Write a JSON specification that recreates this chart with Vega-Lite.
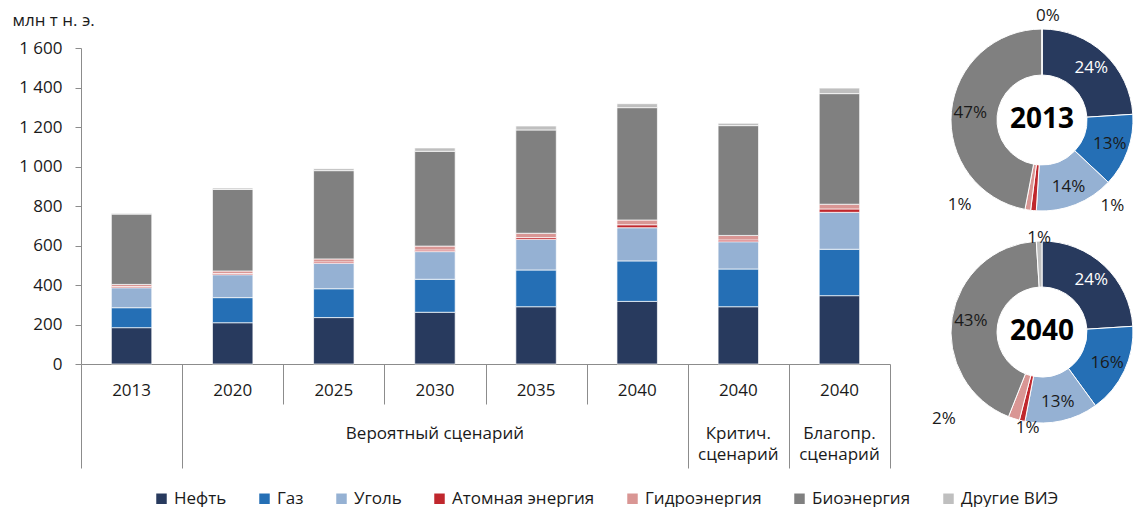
{
  "$schema": "https://vega.github.io/schema/vega-lite/v6.json",
  "background": "white",
  "padding": {"left": 12, "top": 7, "right": 0, "bottom": 3},
  "config": {
    "font": "Open Sans",
    "view": {"stroke": null},
    "axis": {"labelFont": "Open Sans", "titleFont": "Open Sans", "labelColor": "#1a1a1a", "titleColor": "#1a1a1a", "domainColor": "#8c8c8c", "tickColor": "#8c8c8c", "grid": false},
    "legend": {"labelFont": "Open Sans", "labelColor": "#1a1a1a"},
    "text": {"font": "Open Sans", "fontSize": 17}
  },
  "datasets": {
    "sources": [
      {"source": "Нефть", "rank": 1},
      {"source": "Газ", "rank": 2},
      {"source": "Уголь", "rank": 3},
      {"source": "Атомная энергия", "rank": 4},
      {"source": "Гидроэнергия", "rank": 5},
      {"source": "Биоэнергия", "rank": 6},
      {"source": "Другие ВИЭ", "rank": 7}
    ],
    "bars": [
      {"period": "2013", "source": "Нефть", "value": 184},
      {"period": "2013", "source": "Газ", "value": 101},
      {"period": "2013", "source": "Уголь", "value": 101},
      {"period": "2013", "source": "Атомная энергия", "value": 6},
      {"period": "2013", "source": "Гидроэнергия", "value": 11},
      {"period": "2013", "source": "Биоэнергия", "value": 356},
      {"period": "2013", "source": "Другие ВИЭ", "value": 4},
      {"period": "2020", "source": "Нефть", "value": 209},
      {"period": "2020", "source": "Газ", "value": 127},
      {"period": "2020", "source": "Уголь", "value": 116},
      {"period": "2020", "source": "Атомная энергия", "value": 6},
      {"period": "2020", "source": "Гидроэнергия", "value": 13},
      {"period": "2020", "source": "Биоэнергия", "value": 413},
      {"period": "2020", "source": "Другие ВИЭ", "value": 7},
      {"period": "2025", "source": "Нефть", "value": 235},
      {"period": "2025", "source": "Газ", "value": 146},
      {"period": "2025", "source": "Уголь", "value": 129},
      {"period": "2025", "source": "Атомная энергия", "value": 7},
      {"period": "2025", "source": "Гидроэнергия", "value": 15},
      {"period": "2025", "source": "Биоэнергия", "value": 447},
      {"period": "2025", "source": "Другие ВИЭ", "value": 10},
      {"period": "2030||Вероятный сценарий", "source": "Нефть", "value": 262},
      {"period": "2030||Вероятный сценарий", "source": "Газ", "value": 167},
      {"period": "2030||Вероятный сценарий", "source": "Уголь", "value": 140},
      {"period": "2030||Вероятный сценарий", "source": "Атомная энергия", "value": 8},
      {"period": "2030||Вероятный сценарий", "source": "Гидроэнергия", "value": 20},
      {"period": "2030||Вероятный сценарий", "source": "Биоэнергия", "value": 480},
      {"period": "2030||Вероятный сценарий", "source": "Другие ВИЭ", "value": 17},
      {"period": "2035", "source": "Нефть", "value": 290},
      {"period": "2035", "source": "Газ", "value": 186},
      {"period": "2035", "source": "Уголь", "value": 155},
      {"period": "2035", "source": "Атомная энергия", "value": 9},
      {"period": "2035", "source": "Гидроэнергия", "value": 22},
      {"period": "2035", "source": "Биоэнергия", "value": 523},
      {"period": "2035", "source": "Другие ВИЭ", "value": 20},
      {"period": "2040", "source": "Нефть", "value": 317},
      {"period": "2040", "source": "Газ", "value": 205},
      {"period": "2040", "source": "Уголь", "value": 168},
      {"period": "2040", "source": "Атомная энергия", "value": 15},
      {"period": "2040", "source": "Гидроэнергия", "value": 24},
      {"period": "2040", "source": "Биоэнергия", "value": 569},
      {"period": "2040", "source": "Другие ВИЭ", "value": 20},
      {"period": "2040||Критич.|сценарий", "source": "Нефть", "value": 290},
      {"period": "2040||Критич.|сценарий", "source": "Газ", "value": 191},
      {"period": "2040||Критич.|сценарий", "source": "Уголь", "value": 138},
      {"period": "2040||Критич.|сценарий", "source": "Атомная энергия", "value": 9},
      {"period": "2040||Критич.|сценарий", "source": "Гидроэнергия", "value": 23},
      {"period": "2040||Критич.|сценарий", "source": "Биоэнергия", "value": 556},
      {"period": "2040||Критич.|сценарий", "source": "Другие ВИЭ", "value": 12},
      {"period": "2040||Благопр.|сценарий", "source": "Нефть", "value": 346},
      {"period": "2040||Благопр.|сценарий", "source": "Газ", "value": 235},
      {"period": "2040||Благопр.|сценарий", "source": "Уголь", "value": 187},
      {"period": "2040||Благопр.|сценарий", "source": "Атомная энергия", "value": 17},
      {"period": "2040||Благопр.|сценарий", "source": "Гидроэнергия", "value": 24},
      {"period": "2040||Благопр.|сценарий", "source": "Биоэнергия", "value": 560},
      {"period": "2040||Благопр.|сценарий", "source": "Другие ВИЭ", "value": 28}
    ],
    "shares": [
      {"year": "2013", "source": "Нефть", "share": 0.24},
      {"year": "2013", "source": "Газ", "share": 0.13},
      {"year": "2013", "source": "Уголь", "share": 0.14},
      {"year": "2013", "source": "Атомная энергия", "share": 0.01},
      {"year": "2013", "source": "Гидроэнергия", "share": 0.01},
      {"year": "2013", "source": "Биоэнергия", "share": 0.47},
      {"year": "2013", "source": "Другие ВИЭ", "share": 0.0},
      {"year": "2040", "source": "Нефть", "share": 0.24},
      {"year": "2040", "source": "Газ", "share": 0.16},
      {"year": "2040", "source": "Уголь", "share": 0.13},
      {"year": "2040", "source": "Атомная энергия", "share": 0.01},
      {"year": "2040", "source": "Гидроэнергия", "share": 0.02},
      {"year": "2040", "source": "Биоэнергия", "share": 0.43},
      {"year": "2040", "source": "Другие ВИЭ", "share": 0.01}
    ]
  },
  "spacing": 60,
  "bounds": "flush",
  "resolve": {"scale": {"color": "shared"}, "legend": {"color": "shared"}},
  "hconcat": [
    {
      "width": 809,
      "height": 316,
      "data": {"name": "bars"},
      "transform": [
        {"lookup": "source", "from": {"data": {"name": "sources"}, "key": "source", "fields": ["rank"]}}
      ],
      "resolve": {"axis": {"x": "independent"}},
      "layer": [
        {
          "mark": {"type": "bar", "width": {"band": 0.4}, "stroke": "#ffffff", "strokeWidth": 0.7},
          "encoding": {
            "x": {
              "field": "period", "type": "nominal", "sort": null,
              "scale": {"paddingInner": 0, "paddingOuter": 0},
              "axis": {
                "orient": "bottom", "title": null, "ticks": false, "labelAngle": 0,
                "labelExpr": "split(replace(datum.value, '||', '|\u200b|'), '|')",
                "labelBaseline": "top", "labelPadding": 18, "labelLineHeight": 21.5,
                "labelFontSize": 17
              }
            },
            "y": {
              "field": "value", "type": "quantitative", "stack": "zero",
              "scale": {"domain": [0, 1600]},
              "axis": {
                "title": "млн т н. э.", "titleAngle": 0, "titleAlign": "left",
                "titleBaseline": "alphabetic", "titleX": -69, "titleY": -23,
                "titleFontWeight": "normal", "titleFontSize": 17,
                "values": [0, 200, 400, 600, 800, 1000, 1200, 1400, 1600],
                "labelExpr": "replace(format(datum.value, ','), ',', ' ')",
                "labelFontSize": 17, "labelPadding": 13, "tickSize": 6
              }
            },
            "color": {
              "field": "source", "type": "nominal",
              "sort": ["Нефть", "Газ", "Уголь", "Атомная энергия", "Гидроэнергия", "Биоэнергия", "Другие ВИЭ"],
              "scale": {
                "domain": ["Нефть", "Газ", "Уголь", "Атомная энергия", "Гидроэнергия", "Биоэнергия", "Другие ВИЭ"],
                "range": ["#283a5e", "#256fb5", "#95b1d3", "#c0272d", "#d99694", "#808080", "#bfbfbf"]
              },
              "legend": {
                "title": null, "orient": "none", "direction": "horizontal",
                "legendX": 72, "legendY": 442, "symbolType": "square", "symbolSize": 110,
                "symbolStrokeWidth": 0, "labelFontSize": 17, "labelOffset": 4, "columnPadding": 29
              }
            },
            "order": {"field": "rank", "type": "quantitative"}
          }
        },
        {
          "mark": {"type": "bar", "opacity": 0},
          "encoding": {
            "x": {
              "field": "period", "type": "nominal", "sort": null,
              "scale": {"paddingInner": 0, "paddingOuter": 0},
              "axis": {
                "orient": "bottom", "title": null, "labels": false, "domain": false,
                "tickBand": "extent", "tickWidth": 1,
                "tickSize": {"condition": {"test": "datum.extra || test(/^(2013|2040)/, datum.value + '')", "value": 104}, "value": 40}
              }
            }
          }
        }
      ]
    },
    {
      "spacing": 68,
      "bounds": "flush",
      "vconcat": [
        {
          "width": 184,
          "height": 144,
          "data": {"name": "shares"},
          "transform": [
            {"filter": "datum.year == '2013'"},
            {"lookup": "source", "from": {"data": {"name": "sources"}, "key": "source", "fields": ["rank"]}}
          ],
          "layer": [
            {
              "mark": {"type": "arc", "outerRadius": 91, "innerRadius": 45, "stroke": "#ffffff", "strokeWidth": 1},
              "encoding": {
                "theta": {"field": "share", "type": "quantitative", "stack": true},
                "order": {"field": "rank", "type": "quantitative"},
                "color": {
                  "field": "source", "type": "nominal",
                  "scale": {
                    "domain": ["Нефть", "Газ", "Уголь", "Атомная энергия", "Гидроэнергия", "Биоэнергия", "Другие ВИЭ"],
                    "range": ["#283a5e", "#256fb5", "#95b1d3", "#c0272d", "#d99694", "#808080", "#bfbfbf"]
                  }
                }
              }
            },
            {
              "mark": {"type": "text", "radius": 72, "fontSize": 17},
              "encoding": {
                "theta": {"field": "share", "type": "quantitative", "stack": true},
                "order": {"field": "rank", "type": "quantitative"},
                "detail": {"field": "source"},
                "text": {"condition": {"test": "indexof(['Нефть', 'Газ', 'Уголь', 'Биоэнергия'], datum.source) >= 0", "field": "share", "type": "quantitative", "format": ".0%"}, "value": ""},
                "color": {"condition": {"test": "datum.source == 'Нефть'", "value": "#ffffff"}, "value": "#1a1a1a"}
              }
            },
            {
              "mark": {"type": "text", "radius": 104, "dx": 6, "fontSize": 17, "color": "#1a1a1a"},
              "encoding": {
                "theta": {"field": "share", "type": "quantitative", "stack": true},
                "order": {"field": "rank", "type": "quantitative"},
                "detail": {"field": "source"},
                "text": {"condition": {"test": "datum.source == 'Другие ВИЭ'", "field": "share", "type": "quantitative", "format": ".0%"}, "value": ""}
              }
            },
            {
              "mark": {"type": "text", "radius": 91, "dx": 79, "dy": -5, "fontSize": 17, "color": "#1a1a1a"},
              "encoding": {
                "theta": {"field": "share", "type": "quantitative", "stack": true},
                "order": {"field": "rank", "type": "quantitative"},
                "detail": {"field": "source"},
                "text": {"condition": {"test": "datum.source == 'Атомная энергия'", "field": "share", "type": "quantitative", "format": ".0%"}, "value": ""}
              }
            },
            {
              "mark": {"type": "text", "radius": 91, "dx": -68, "dy": -5, "fontSize": 17, "color": "#1a1a1a"},
              "encoding": {
                "theta": {"field": "share", "type": "quantitative", "stack": true},
                "order": {"field": "rank", "type": "quantitative"},
                "detail": {"field": "source"},
                "text": {"condition": {"test": "datum.source == 'Гидроэнергия'", "field": "share", "type": "quantitative", "format": ".0%"}, "value": ""}
              }
            },
            {
              "data": {"values": [{"label": "2013"}]},
              "mark": {"type": "text", "fontSize": 28, "fontWeight": "bold", "color": "#000000"},
              "encoding": {"text": {"field": "label"}}
            }
          ]
        },
        {
          "width": 184,
          "height": 144,
          "data": {"name": "shares"},
          "transform": [
            {"filter": "datum.year == '2040'"},
            {"lookup": "source", "from": {"data": {"name": "sources"}, "key": "source", "fields": ["rank"]}}
          ],
          "layer": [
            {
              "mark": {"type": "arc", "outerRadius": 91, "innerRadius": 45, "stroke": "#ffffff", "strokeWidth": 1},
              "encoding": {
                "theta": {"field": "share", "type": "quantitative", "stack": true},
                "order": {"field": "rank", "type": "quantitative"},
                "color": {
                  "field": "source", "type": "nominal",
                  "scale": {
                    "domain": ["Нефть", "Газ", "Уголь", "Атомная энергия", "Гидроэнергия", "Биоэнергия", "Другие ВИЭ"],
                    "range": ["#283a5e", "#256fb5", "#95b1d3", "#c0272d", "#d99694", "#808080", "#bfbfbf"]
                  }
                }
              }
            },
            {
              "mark": {"type": "text", "radius": 72, "fontSize": 17},
              "encoding": {
                "theta": {"field": "share", "type": "quantitative", "stack": true},
                "order": {"field": "rank", "type": "quantitative"},
                "detail": {"field": "source"},
                "text": {"condition": {"test": "indexof(['Нефть', 'Газ', 'Уголь', 'Биоэнергия'], datum.source) >= 0", "field": "share", "type": "quantitative", "format": ".0%"}, "value": ""},
                "color": {"condition": {"test": "datum.source == 'Нефть'", "value": "#ffffff"}, "value": "#1a1a1a"}
              }
            },
            {
              "mark": {"type": "text", "radius": 94, "fontSize": 17, "color": "#1a1a1a"},
              "encoding": {
                "theta": {"field": "share", "type": "quantitative", "stack": true},
                "order": {"field": "rank", "type": "quantitative"},
                "detail": {"field": "source"},
                "text": {"condition": {"test": "datum.source == 'Другие ВИЭ'", "field": "share", "type": "quantitative", "format": ".0%"}, "value": ""}
              }
            },
            {
              "mark": {"type": "text", "radius": 98, "dx": 7, "fontSize": 17, "color": "#1a1a1a"},
              "encoding": {
                "theta": {"field": "share", "type": "quantitative", "stack": true},
                "order": {"field": "rank", "type": "quantitative"},
                "detail": {"field": "source"},
                "text": {"condition": {"test": "datum.source == 'Атомная энергия'", "field": "share", "type": "quantitative", "format": ".0%"}, "value": ""}
              }
            },
            {
              "mark": {"type": "text", "radius": 91, "dx": -70, "fontSize": 17, "color": "#1a1a1a"},
              "encoding": {
                "theta": {"field": "share", "type": "quantitative", "stack": true},
                "order": {"field": "rank", "type": "quantitative"},
                "detail": {"field": "source"},
                "text": {"condition": {"test": "datum.source == 'Гидроэнергия'", "field": "share", "type": "quantitative", "format": ".0%"}, "value": ""}
              }
            },
            {
              "data": {"values": [{"label": "2040"}]},
              "mark": {"type": "text", "fontSize": 28, "fontWeight": "bold", "color": "#000000"},
              "encoding": {"text": {"field": "label"}}
            }
          ]
        }
      ]
    }
  ]
}
